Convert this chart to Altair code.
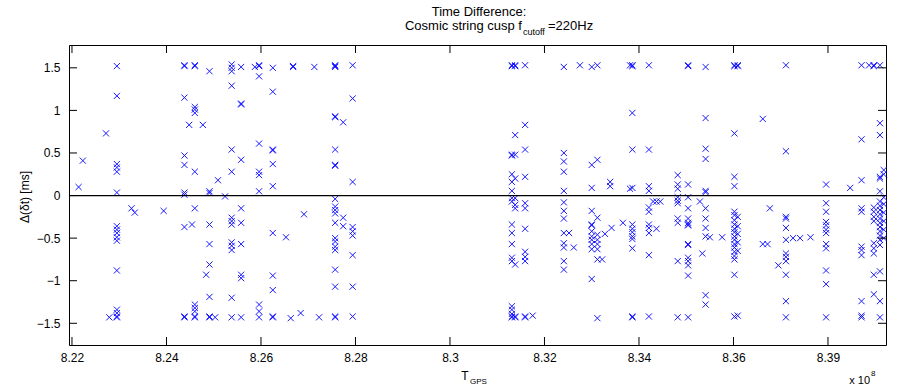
import altair as alt
import pandas as pd

# ---- data: GPS time (x 1e8 s) of each column and the Δ(δt) values [ms] found there ----
t_early = [8.2214, 8.2223, 8.2272, 8.2279, 8.2295, 8.2326, 8.2333, 8.2394, 8.2438, 8.2448,
           8.2454, 8.2460, 8.2477, 8.2484, 8.2491, 8.2503, 8.2509, 8.2524, 8.2538, 8.2558,
           8.2587, 8.2596, 8.2625, 8.2653, 8.2663, 8.2668, 8.2684, 8.2691, 8.2713, 8.2723,
           8.2757, 8.2774, 8.2794]
dt_early = [
    [0.10], [0.41], [0.73], [-1.43],
    [1.52, 1.17, 0.37, 0.33, 0.28, 0.035, -0.36, -0.40, -0.44, -0.49, -0.53, -0.88, -1.34, -1.38, -1.43, -1.42],
    [-0.15], [-0.20], [-0.18],
    [1.53, 1.52, 1.15, 0.47, 0.36, 0.035, 0.01, -0.37, -1.43, -1.42],
    [0.83], [-0.34],
    [1.53, 1.52, 1.04, 1.01, 0.97, 0.28, -0.15, -1.28, -1.32, -1.36, -1.43, -1.42],
    [0.83], [-0.93],
    [1.46, 0.05, 0.03, -0.34, -0.57, -0.81, -1.19, -1.43, -1.42],
    [-1.43], [0.18], [-0.01],
    [1.54, 1.50, 1.46, 1.29, 0.54, 0.28, -0.26, -0.30, -0.34, -0.55, -0.59, -0.64, -1.20, -1.43],
    [1.51, 1.08, 1.07, 0.42, -0.15, -0.32, -0.57, -0.93, -0.97, -1.43],
    [1.51],
    [1.53, 1.52, 1.40, 0.61, 0.28, 0.24, 0.05, -1.28, -1.36, -1.43],
    [1.50, 1.22, 0.54, 0.53, 0.37, 0.11, -0.44, -0.94, -1.11, -1.43, -1.42],
    [-0.49], [-1.44], [1.51, 1.52], [-1.38], [-0.22], [1.51], [-1.43],
    [1.53, 1.52, 1.51, 0.93, 0.92, 0.54, 0.36, 0.35, -0.04, -0.13, -0.17, -0.21, -0.32,
     -0.50, -0.54, -0.60, -0.64, -0.87, -1.07, -1.43, -1.42],
    [0.86, -0.26, -0.36],
    [1.53, 1.14, 0.16, -0.37, -0.42, -0.47, -0.70, -1.07, -1.42],
]

t_late = [8.3131, 8.3138, 8.3159, 8.3175, 8.3241, 8.3252, 8.3262, 8.3275, 8.3300, 8.3312,
          8.3322, 8.3328, 8.3339, 8.3342, 8.3366, 8.3381, 8.3386, 8.3421, 8.3430, 8.3437,
          8.3445, 8.3482, 8.3504, 8.3529, 8.3534, 8.3541, 8.3550, 8.3576, 8.3602, 8.3609,
          8.3662, 8.3672, 8.3677, 8.3695, 8.3711, 8.3726, 8.3741, 8.3763, 8.3796, 8.3847,
          8.3871, 8.3887, 8.3897, 8.3910, 8.3918]
dt_late = [
    [1.53, 1.52, 0.48, 0.47, 0.25, 0.16, 0.055, -0.03, -0.07, -0.34, -0.44, -0.57, -0.73, -0.77, -1.30, -1.34, -1.39, -1.43, -1.42],
    [1.53, 1.52, 0.71, 0.48, 0.20, -0.03, -0.11, -0.15, -0.81, -1.43, -1.42],
    [1.53, 0.83, 0.54, 0.22, -0.09, -0.15, -0.39, -0.66, -0.72, -0.77, -1.43, -1.42],
    [-1.41],
    [1.51, 0.50, 0.40, 0.28, 0.055, -0.08, -0.18, -0.27, -0.44, -0.56, -0.61, -0.77, -0.87],
    [-0.44], [-0.61], [1.53],
    [1.51, 0.36, 0.09, -0.18, -0.34, -0.35, -0.42, -0.48, -0.52, -0.57, -0.63, -0.98],
    [1.53, 0.42, -0.26, -0.46, -0.52, -0.57, -0.63, -0.75, -1.44],
    [-0.75], [-0.45], [0.16, 0.11], [-0.38], [-0.32], [1.53, 0.08],
    [1.53, 1.52, 0.97, 0.54, 0.09, -0.34, -0.39, -0.43, -0.48, -0.51, -0.62, -1.43, -1.42],
    [1.53, 0.54, 0.11, 0.055, -0.14, -0.19, -0.34, -0.38, -0.44, -0.70, -1.42],
    [-0.07], [-0.07, -0.39], [-0.07],
    [0.24, 0.13, 0.08, -0.02, -0.06, -0.09, -0.27, -0.32, -0.77, -1.43],
    [1.53, 1.52, 0.13, -0.02, -0.15, -0.27, -0.32, -0.34, -0.35, -0.57, -0.58, -0.73, -0.77, -0.82, -0.94, -1.43],
    [-0.07], [-0.68],
    [1.51, 0.91, 0.55, 0.43, 0.055, 0.04, -0.15, -0.27, -0.38, -0.48, -1.17, -1.28],
    [-0.49], [-0.49],
    [1.53, 1.52, 0.73, 0.22, 0.11, -0.19, -0.23, -0.29, -0.34, -0.39, -0.43, -0.48, -0.52, -0.57,
     -0.61, -0.66, -0.71, -0.75, -0.93, -1.42],
    [1.53, 1.52, -0.25, -0.36, -0.45, -0.55, -0.65, -1.41],
    [0.90, -0.57], [-0.57], [-0.15], [-0.82],
    [1.53, 0.52, -0.25, -0.27, -0.38, -0.52, -0.68, -0.72, -0.77, -0.93, -1.24, -1.43],
    [-0.50], [-0.50], [-0.49],
    [0.13, -0.09, -0.19, -0.31, -0.35, -0.40, -0.44, -0.57, -0.62, -0.88, -1.04, -1.43],
    [0.09],
    [1.53, 0.66, 0.18, -0.15, -0.19, -0.60, -0.64, -0.70, -1.24, -1.41, -1.43],
    [1.53],
    [1.53, 1.52, -0.14, -0.19, -0.25, -0.30, -0.56, -0.62, -0.68, -0.93, -1.16],
    [1.53, 0.85, 0.71, 0.22, 0.20, 0.05, -0.07, -0.12, -0.17, -0.22, -0.27, -0.32, -0.37,
     -0.42, -0.47, -0.52, -0.58, -0.89, -1.24, -1.43],
    [0.30, 0.25, -0.02, -0.10, -0.20, -0.30, -0.40, -0.50],
]

x_ticks = [8.22, 8.24, 8.26, 8.28, 8.30, 8.32, 8.34, 8.36, 8.38]
x_tick_labels = ["8.22", "8.24", "8.26", "8.28", "8.3", "8.32", "8.34", "8.36", "8.39"]
y_ticks = [-1.5, -1.0, -0.5, 0.0, 0.5, 1.0, 1.5]
x_domain = [8.21937, 8.39228]
y_domain = [-1.755, 1.768]

rows = []
for ts, dts in ((t_early, dt_early), (t_late, dt_late)):
    for t, vals in zip(ts, dts):
        for v in vals:
            rows.append({"t": t, "dt": v})
points = pd.DataFrame(rows)

W, H = 817, 300
FONT = "Liberation Sans"
BLUE = "#0000ff"

xs = alt.Scale(domain=x_domain, nice=False, zero=False)
ys = alt.Scale(domain=y_domain, nice=False, zero=False)

label_expr = "[" + ",".join(f"'{s}'" for s in x_tick_labels) + "][round((datum.value - 8.22) / 0.02)]"

X = alt.X("t:Q", scale=xs, title=None,
          axis=alt.Axis(values=x_ticks, labelExpr=label_expr, grid=False, domain=False,
                        ticks=False, labelPadding=7, labelFont=FONT, labelFontSize=12,
                        labelColor="black"))
Y = alt.Y("dt:Q", scale=ys, title=None,
          axis=alt.Axis(values=y_ticks, format="~g", grid=False, domain=False,
                        ticks=False, labelPadding=9, labelFont=FONT, labelFontSize=12,
                        labelColor="black"))

xmark = "M-1,-1L1,1M1,-1L-1,1"
pts = alt.Chart(points).mark_point(shape=xmark, size=38, filled=False, color=BLUE, stroke=BLUE,
                                   strokeWidth=1, opacity=0.9).encode(x=X, y=Y)

zero = alt.Chart(pd.DataFrame({"dt": [0.0]})).mark_rule(color="black", strokeWidth=1.3).encode(
    y=alt.Y("dt:Q", scale=ys))

xt = pd.DataFrame({"t": x_ticks})
yt = pd.DataFrame({"dt": y_ticks})
tick_style = dict(color="black", strokeWidth=1)
xb = alt.Chart(xt).mark_rule(**tick_style).encode(x=alt.X("t:Q", scale=xs), y=alt.value(H), y2=alt.value(H - 8))
xtop = alt.Chart(xt).mark_rule(**tick_style).encode(x=alt.X("t:Q", scale=xs), y=alt.value(0), y2=alt.value(8))
yl = alt.Chart(yt).mark_rule(**tick_style).encode(y=alt.Y("dt:Q", scale=ys), x=alt.value(0), x2=alt.value(8))
yr = alt.Chart(yt).mark_rule(**tick_style).encode(y=alt.Y("dt:Q", scale=ys), x=alt.value(W), x2=alt.value(W - 8))


def note(text, x, y, size=12, align="center", angle=0, baseline="middle"):
    kw = dict(text=text, font=FONT, fontSize=size, align=align, baseline=baseline, color="black")
    if angle:
        kw["angle"] = angle
    return alt.Chart(alt.Data(values=[{}])).mark_text(**kw).encode(x=alt.value(x), y=alt.value(y))


notes = [
    note("Time Difference:", 410, -33, size=13),
    note("Cosmic string cusp f", 453, -19, size=13, align="right"),
    note("cutoff", 454, -13, size=9, align="left"),
    note("=220Hz", 479, -19, size=13, align="left"),
    note("T", 396, 31 + H, align="center"),
    note("GPS", 401, 37 + H, size=8, align="left"),
    note("x 10", 801, 36 + H, size=11, align="right"),
    note("8", 802, 29 + H, size=8, align="left"),
    note("Δ(δt) [ms]", -44, 152, angle=270),
]

chart = alt.layer(pts, zero, xb, xtop, yl, yr, *notes).properties(
    width=W, height=H,
    autosize=alt.AutoSizeParams(type="none"),
    padding={"left": 69, "top": 45, "right": 15, "bottom": 45},
    background="white",
).configure_view(stroke="black", strokeWidth=1)

chart.save("out.html", embed_options={"renderer": "svg", "actions": False})
